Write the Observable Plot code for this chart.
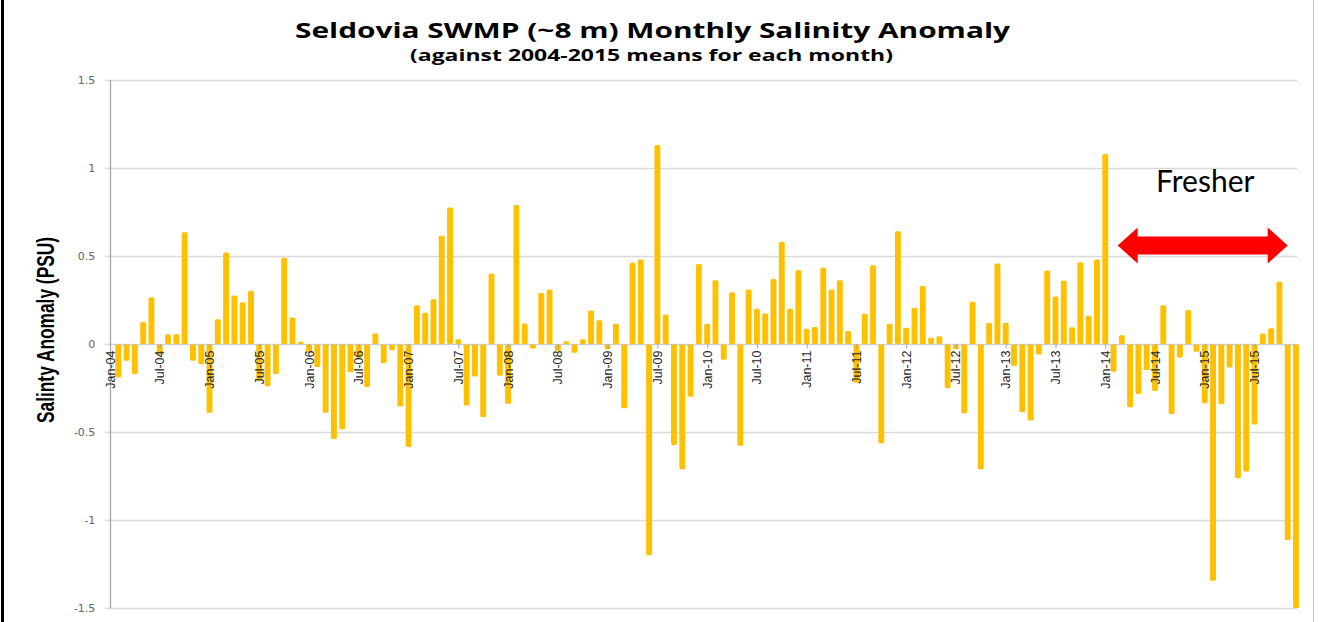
<!DOCTYPE html>
<html>
<head>
<meta charset="utf-8">
<script src="https://cdn.jsdelivr.net/npm/d3@7"></script>
<script src="https://cdn.jsdelivr.net/npm/@observablehq/plot@0.6"></script>
<style>
  html, body { margin: 0; padding: 0; background: #fff; }
  #wrap { position: relative; width: 1319px; height: 622px; overflow: hidden; background: #fff; }
  #chart { position: absolute; left: 0; top: 0; }
  .edge-left { position: absolute; left: 1px; top: 0; width: 3px; height: 622px; background: #000; }
  .edge-right { position: absolute; left: 1313px; top: 0; width: 1px; height: 622px; background: #bfbfbf; }
</style>
</head>
<body>
<div id="wrap">
  <div id="chart"></div>
  <div class="edge-left"></div>
  <div class="edge-right"></div>
</div>
<script>
// ---- Data ----
const titleText = "Seldovia SWMP (~8 m) Monthly Salinity Anomaly";
const subtitleText = "(against 2004-2015 means for each month)";
const yLabel = "Salinty Anomaly (PSU)";

const years = ["04","05","06","07","08","09","10","11","12","13","14","15"];
const monthNames = ["Jan","Feb","Mar","Apr","May","Jun","Jul","Aug","Sep","Oct","Nov","Dec"];

// monthly salinity anomaly (PSU), Jan-04 .. Dec-15
const anomaly2004 = [null, -0.19, -0.095, -0.17, 0.125, 0.265, -0.06, 0.055, 0.055, 0.635, -0.095, -0.115];
const anomaly2005 = [-0.39, 0.14, 0.52, 0.275, 0.237, 0.303, -0.21, -0.24, -0.17, 0.49, 0.15, 0.013];
const anomaly2006 = [-0.05, -0.13, -0.39, -0.54, -0.485, -0.16, -0.08, -0.245, 0.06, -0.11, -0.035, -0.355];
const anomaly2007 = [-0.585, 0.22, 0.178, 0.254, 0.615, 0.775, 0.027, -0.35, -0.185, -0.415, 0.40, -0.18];
const anomaly2008 = [-0.34, 0.79, 0.117, -0.025, 0.29, 0.31, -0.04, 0.015, -0.05, 0.027, 0.19, 0.135];
const anomaly2009 = [-0.03, 0.115, -0.365, 0.462, 0.48, -1.2, 1.13, 0.167, -0.574, -0.712, -0.3, 0.455];
const anomaly2010 = [0.115, 0.362, -0.09, 0.294, -0.578, 0.31, 0.2, 0.174, 0.37, 0.58, 0.2, 0.42];
const anomaly2011 = [0.087, 0.097, 0.435, 0.31, 0.362, 0.074, -0.22, 0.172, 0.447, -0.564, 0.115, 0.64];
const anomaly2012 = [0.093, 0.206, 0.33, 0.036, 0.044, -0.25, -0.03, -0.394, 0.24, -0.712, 0.12, 0.458];
const anomaly2013 = [0.12, -0.125, -0.386, -0.434, -0.06, 0.417, 0.27, 0.36, 0.095, 0.464, 0.16, 0.48];
const anomaly2014 = [1.08, -0.157, 0.05, -0.36, -0.284, -0.148, -0.267, 0.22, -0.398, -0.076, 0.193, -0.044];
const anomaly2015 = [-0.337, -1.345, -0.343, -0.133, -0.763, -0.725, -0.458, 0.06, 0.09, 0.354, -1.114, -1.5];

const yTicks = [-1.5, -1, -0.5, 0, 0.5, 1, 1.5];
const xTickLabels = ["Jan-04","Jul-04","Jan-05","Jul-05","Jan-06","Jul-06","Jan-07","Jul-07","Jan-08","Jul-08",
  "Jan-09","Jul-09","Jan-10","Jul-10","Jan-11","Jul-11","Jan-12","Jul-12","Jan-13","Jul-13",
  "Jan-14","Jul-14","Jan-15","Jul-15"];

// annotation
const annotationText = "Fresher";
const annotationX = "Jan-15";
const annotationY = 0.92;
const arrowFrom = "Feb-14";
const arrowTo = "Nov-15";
const arrowY = 0.56;

// ---- Build table ----
const months = years.flatMap(y => monthNames.map(m => `${m}-${y}`));
const values = [anomaly2004, anomaly2005, anomaly2006, anomaly2007, anomaly2008, anomaly2009,
  anomaly2010, anomaly2011, anomaly2012, anomaly2013, anomaly2014, anomaly2015].flat();
const data = months.map((m, i) => ({month: m, value: values[i]})).filter(d => d.value != null);

const W = 1319, H = 622;
const nCat = months.length;
// first category centred on the value axis (x=110), last at right plot edge (x=1296)
const step = (1296 - 110) / (nCat - 1);
const mLeft = 110 - step / 2;
const mRight = W - (1296 + step / 2);

const chart = Plot.plot({
  width: W,
  height: H,
  marginTop: 80,
  marginBottom: 14,
  marginLeft: mLeft,
  marginRight: mRight,
  style: {background: "#fff", overflow: "visible"},
  x: {type: "band", domain: months, padding: 0, round: false, axis: null},
  y: {domain: [-1.5, 1.5], axis: null},
  marks: [
    Plot.ruleY(yTicks, {stroke: "#d9d9d9", strokeWidth: 1.3, insetLeft: -1, insetRight: 3}),
    Plot.barY(data, {x: "month", y: "value", fill: "#FFC000", insetLeft: 1.2, insetRight: 1.2, rx: 1.5}),
    Plot.ruleY([0], {stroke: "#c8c8c8", strokeWidth: 1.2, strokeOpacity: 0.7, insetLeft: 4, insetRight: 3}),
    Plot.ruleX([months[0]], {stroke: "#a6a6a6", strokeWidth: 1.3}),
    Plot.ruleX(xTickLabels, {x: d => d, y1: 0, y2: -0.025, stroke: "#a6a6a6"}),
    Plot.axisY({ticks: yTicks, tickSize: 0, tickPadding: 11, tickFormat: d => String(d),
      fontFamily: "DejaVu Sans, Verdana, sans-serif", fontSize: 11, fill: "#666", label: null}),
    Plot.text(xTickLabels, {x: d => d, y: 0, text: d => d, rotate: -90, textAnchor: "end", dy: 6,
      fontFamily: "'Liberation Sans', Arial, sans-serif",
      fontSize: 12.5, fill: "#262626"}),
    Plot.text([annotationText], {x: () => annotationX, y: () => annotationY, text: d => d,
      fontFamily: "Lato, 'Open Sans', sans-serif", fontSize: 30, fill: "#000"})
  ]
});

document.getElementById("chart").appendChild(chart);

// ---- Post-render: title, axis label, double arrow (positions from Plot's scales) ----
const svg = d3.select(chart);
const xs = chart.scale("x");
const ys = chart.scale("y");

svg.append("text")
  .attr("x", 652.5).attr("y", 38)
  .attr("text-anchor", "middle")
  .attr("font-family", "'Open Sans', Lato, sans-serif")
  .attr("font-weight", "bold").attr("font-size", 21.5).attr("fill", "#000")
  .attr("textLength", 715).attr("lengthAdjust", "spacingAndGlyphs")
  .text(titleText);
svg.append("text")
  .attr("x", 651.5).attr("y", 61)
  .attr("text-anchor", "middle")
  .attr("font-family", "'Open Sans', Lato, sans-serif")
  .attr("font-weight", "bold").attr("font-size", 15.5).attr("fill", "#000")
  .attr("textLength", 483).attr("lengthAdjust", "spacingAndGlyphs")
  .text(subtitleText);
svg.append("text")
  .attr("transform", "translate(54,330) rotate(-90)")
  .attr("text-anchor", "middle")
  .attr("font-family", "'Liberation Sans', Arial, sans-serif")
  .attr("font-weight", "bold").attr("font-size", 23).attr("fill", "#000")
  .attr("textLength", 186).attr("lengthAdjust", "spacingAndGlyphs")
  .text(yLabel);

const bw = xs.bandwidth;
const L = xs.apply(arrowFrom) + bw;
const R = xs.apply(arrowTo) + bw / 2;
const cy = ys.apply(arrowY);
const hl = 20, hh = 18, sh = 9;
const pts = [[L, cy], [L + hl, cy - hh], [L + hl, cy - sh], [R - hl, cy - sh], [R - hl, cy - hh], [R, cy],
  [R - hl, cy + hh], [R - hl, cy + sh], [L + hl, cy + sh], [L + hl, cy + hh]];
svg.append("path")
  .attr("d", "M" + pts.map(p => p.join(",")).join("L") + "Z")
  .attr("fill", "#ff0000");
</script>
</body>
</html>
